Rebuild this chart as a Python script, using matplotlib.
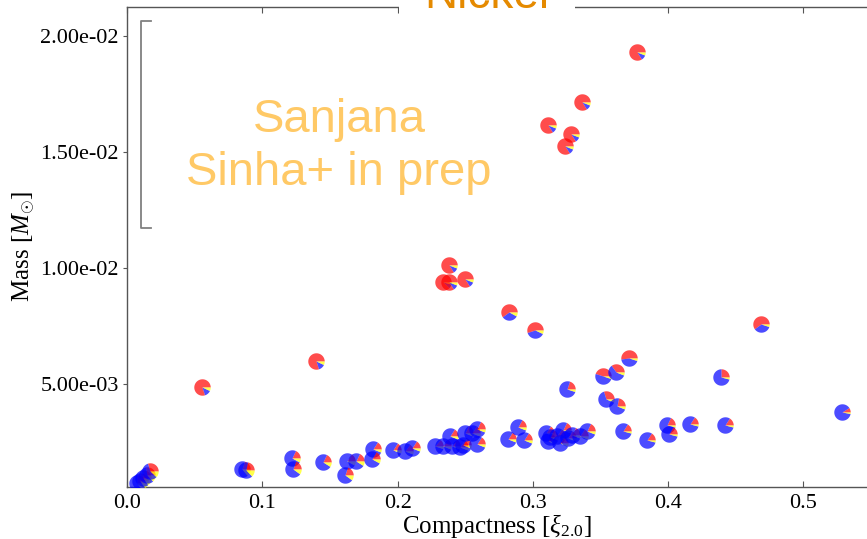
import numpy as np
import matplotlib
matplotlib.use("Agg")
import matplotlib.pyplot as plt
from matplotlib.lines import Line2D
from matplotlib.ticker import FormatStrFormatter

# ---- data: compactness, mass, and pie fractions (red, blue, yellow) ----
compactness = [
    0.3767, 0.3361, 0.3109, 0.3282, 0.3239, 0.2382, 0.2333, 0.2382, 0.2498,
    0.2826, 0.3016, 0.1395, 0.0558, 0.4686,
    0.3714, 0.3520, 0.3614, 0.3254, 0.3540, 0.3619, 0.4388, 0.5287,
    0.3664, 0.3847, 0.3993, 0.4008, 0.4161, 0.4420,
    0.0074, 0.0096, 0.0120, 0.0146, 0.0170,
    0.0848, 0.0880, 0.1217, 0.1229, 0.1446, 0.1624, 0.1611, 0.1693,
    0.1816, 0.1809, 0.1966, 0.2058, 0.2104,
    0.2280, 0.2339, 0.2387, 0.2400, 0.2461, 0.2486, 0.2498, 0.2548, 0.2587, 0.2585,
    0.2818, 0.2892, 0.2934,
    0.3097, 0.3114, 0.3126, 0.3176, 0.3200, 0.3225, 0.3262, 0.3287, 0.3348, 0.3398,
]
mass = [
    0.01932, 0.01717, 0.01615, 0.01576, 0.01526, 0.01013, 0.009383, 0.009383, 0.009513,
    0.008116, 0.007314, 0.006004, 0.00487, 0.007586,
    0.006108, 0.005345, 0.005496, 0.004772, 0.004340, 0.004022, 0.005289, 0.003780,
    0.002944, 0.002556, 0.003203, 0.002823, 0.003276, 0.003233,
    0.000733, 0.000789, 0.000936, 0.001078, 0.001220,
    0.001324, 0.001293, 0.001798, 0.001345, 0.001608, 0.001651, 0.001078, 0.001651,
    0.002186, 0.001737, 0.002155, 0.002082, 0.002229,
    0.002306, 0.002306, 0.002737, 0.002298, 0.002263, 0.002350, 0.002867, 0.002875, 0.003060, 0.002414,
    0.002608, 0.003147, 0.002573,
    0.002888, 0.002513, 0.002716, 0.002729, 0.002444, 0.003017, 0.002660, 0.002802, 0.002729, 0.002944,
]
frac_red = [
    0.84, 0.84, 0.84, 0.84, 0.84, 0.84, 0.88, 0.84, 0.84,
    0.60, 0.55, 0.80, 0.80, 0.60,
    0.52, 0.45, 0.35, 0.20, 0.30, 0.22, 0.25, 0.09,
    0.16, 0.16, 0.18, 0.17, 0.16, 0.16,
    0.25, 0.25, 0.25, 0.28, 0.30,
    0.20, 0.22, 0.18, 0.20, 0.18, 0.16, 0.20, 0.18,
    0.16, 0.17, 0.16, 0.15, 0.16,
    0.14, 0.15, 0.16, 0.15, 0.16, 0.17, 0.18, 0.16, 0.18, 0.16,
    0.16, 0.17, 0.16,
    0.16, 0.16, 0.17, 0.16, 0.16, 0.18, 0.17, 0.18, 0.16, 0.18,
]
frac_blue = [
    0.10, 0.10, 0.10, 0.10, 0.10, 0.10, 0.08, 0.10, 0.10,
    0.32, 0.38, 0.13, 0.13, 0.35,
    0.43, 0.50, 0.59, 0.75, 0.64, 0.72, 0.71, 0.88,
    0.80, 0.80, 0.78, 0.79, 0.80, 0.80,
    0.60, 0.60, 0.60, 0.59, 0.58,
    0.66, 0.65, 0.74, 0.70, 0.73, 0.76, 0.70, 0.73,
    0.78, 0.75, 0.78, 0.79, 0.78,
    0.81, 0.79, 0.78, 0.79, 0.78, 0.77, 0.76, 0.78, 0.76, 0.78,
    0.78, 0.77, 0.78,
    0.78, 0.78, 0.77, 0.78, 0.78, 0.76, 0.77, 0.76, 0.78, 0.76,
]
frac_yellow = [1.0 - r - b for r, b in zip(frac_red, frac_blue)]

wedge_colors = ["red", "blue", "yellow"]

plt.rcParams['font.family'] = ['Liberation Serif', 'DejaVu Serif']
plt.rcParams['mathtext.fontset'] = 'custom'
plt.rcParams['mathtext.rm'] = 'Liberation Serif'
plt.rcParams['mathtext.it'] = 'Liberation Serif:italic'

fig = plt.figure(figsize=(8.67, 5.39), dpi=100)
ax = fig.add_axes([127/867, 1 - 487/539, 1 - 127/867, (487 - 7)/539])

S = 140.0


def wedge_verts(f0, f1):
    n = max(4, int(80 * (f1 - f0)) + 2)
    th = np.linspace(2 * np.pi * f0, 2 * np.pi * f1, n)
    return np.column_stack([np.r_[0, np.cos(th), 0], np.r_[0, np.sin(th), 0]])


for x, y, fr, fb, fy in zip(compactness, mass, frac_red, frac_blue, frac_yellow):
    start = 0.0
    for frac, col in zip((fr, fb, fy), wedge_colors):
        if frac <= 0.001:
            continue
        verts = wedge_verts(start, start + frac)
        s1 = np.abs(verts).max()
        ax.scatter([x], [y], marker=verts, s=S * s1 ** 2, color=col,
                   alpha=0.7, linewidths=0, zorder=3)
        start += frac

ax.set_xlim(0, 0.547)
ax.set_ylim(0.00055, 0.02125)
ax.set_xticks([0.0, 0.1, 0.2, 0.3, 0.4, 0.5])
ax.set_yticks([0.005, 0.010, 0.015, 0.020])
ax.yaxis.set_major_formatter(FormatStrFormatter('%.2e'))
ax.xaxis.set_major_formatter(FormatStrFormatter('%.1f'))

for sp in ax.spines.values():
    sp.set_color('#555555')
    sp.set_linewidth(1.0)
ax.spines['right'].set_visible(False)

ax.tick_params(axis='x', direction='in', top=True, bottom=True, length=4,
               labelsize=16, colors='#555555', labelcolor='black', pad=5)
ax.tick_params(axis='y', direction='out', left=True, right=False, length=3,
               labelsize=16, colors='#555555', labelcolor='black', pad=3)

ax.set_xlabel(r'Compactness [$\xi_{2.0}$]', fontsize=18, labelpad=-1)
ax.set_ylabel(r'Mass [$M_{\odot}$]', fontsize=18, labelpad=2)

# title partly outside the figure
fig.text(487/867, 1 - 8/539, 'Nickel', fontsize=33, color='#E58A00',
         family=['Liberation Sans', 'DejaVu Sans'], ha='center', va='baseline',
         bbox=dict(boxstyle='square,pad=0.55', facecolor='white', edgecolor='none'),
         zorder=10)

# watermark text
fig.text(339/867, 1 - 132/539, 'Sanjana', fontsize=34, color='#FFC966',
         family=['Liberation Sans', 'DejaVu Sans'], ha='center', va='baseline')
fig.text(339/867, 1 - 185/539, 'Sinha+ in prep', fontsize=34, color='#FFC966',
         family=['Liberation Sans', 'DejaVu Sans'], ha='center', va='baseline')

# bracket
bx0, bx1 = 141/867, 151/867
by0, by1 = 1 - 21/539, 1 - 228/539
fig.add_artist(Line2D([bx1, bx0, bx0, bx1], [by0, by0, by1, by1],
                      transform=fig.transFigure, color='#808080', lw=1.3))

fig.savefig('out.png', dpi=100)
